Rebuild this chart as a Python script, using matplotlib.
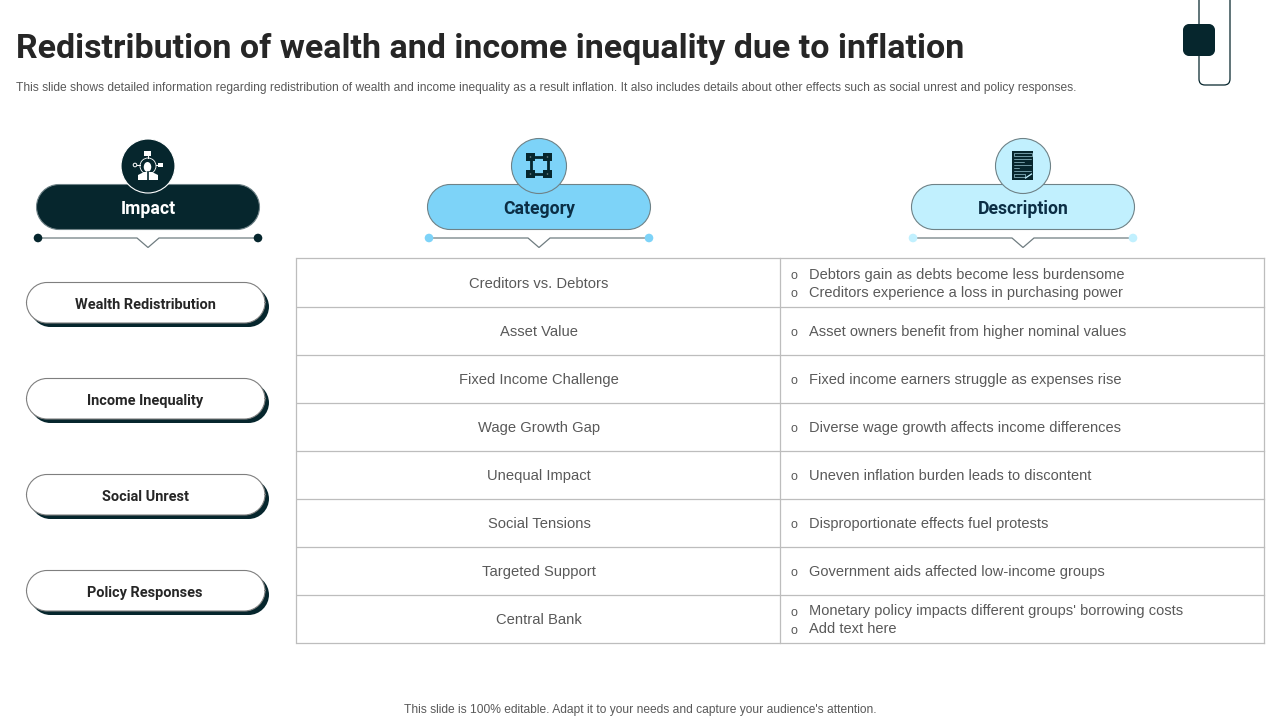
"""
    plot.py
        -- inflation slide: impact pills, category and description table
"""
import matplotlib

matplotlib.use("Agg")
import matplotlib.pyplot as plt
from matplotlib.patches import Circle, Ellipse, PathPatch, Polygon, Rectangle
from matplotlib.path import Path

TITLE = "Redistribution of wealth and income inequality due to inflation"
SUBTITLE = (
    "This slide shows detailed information regarding redistribution of wealth and income "
    "inequality as a result inflation. It also includes details about other effects such as "
    "social unrest and policy responses."
)
FOOTER = "This slide is 100% editable. Adapt it to your needs and capture your audience's attention."

headers = ["Impact", "Category", "Description"]
impacts = ["Wealth Redistribution", "Income Inequality", "Social Unrest", "Policy Responses"]
categories = [
    "Creditors vs. Debtors",
    "Asset Value",
    "Fixed Income Challenge",
    "Wage Growth Gap",
    "Unequal Impact",
    "Social Tensions",
    "Targeted Support",
    "Central Bank",
]
descriptions = [
    ["Debtors gain as debts become less burdensome", "Creditors experience a loss in purchasing power"],
    ["Asset owners benefit from higher nominal values"],
    ["Fixed income earners struggle as expenses rise"],
    ["Diverse wage growth affects income differences"],
    ["Uneven inflation burden leads to discontent"],
    ["Disproportionate effects fuel protests"],
    ["Government aids affected low-income groups"],
    ["Monetary policy impacts different groups' borrowing costs", "Add text here"],
]

DARK = "#06262d"
BLUE = "#7dd3f8"
PALE = "#c1f0fe"
EDGE = "#6f8287"
GRID = "#bdbdbd"
TEXT = "#595959"
HEAD_FONT = ["Roboto", "DejaVu Sans"]

plt.rcParams["font.family"] = ["Liberation Sans", "DejaVu Sans"]

fig = plt.figure(figsize=(12.8, 7.2), dpi=100)
ax = fig.add_axes([0, 0, 1, 1])
ax.set_xlim(0, 1280)
ax.set_ylim(720, 0)
ax.axis("off")


def px(size):
    return size * 0.72


def pill(x0, y0, x1, y1, r, **kwargs):
    # rounded box with true circular corners
    k = 0.5523 * r
    verts = [
        (x0 + r, y0), (x1 - r, y0),
        (x1 - r + k, y0), (x1, y0 + r - k), (x1, y0 + r),
        (x1, y1 - r),
        (x1, y1 - r + k), (x1 - r + k, y1), (x1 - r, y1),
        (x0 + r, y1),
        (x0 + r - k, y1), (x0, y1 - r + k), (x0, y1 - r),
        (x0, y0 + r),
        (x0, y0 + r - k), (x0 + r - k, y0), (x0 + r, y0),
    ]
    codes = [
        Path.MOVETO, Path.LINETO,
        Path.CURVE4, Path.CURVE4, Path.CURVE4,
        Path.LINETO,
        Path.CURVE4, Path.CURVE4, Path.CURVE4,
        Path.LINETO,
        Path.CURVE4, Path.CURVE4, Path.CURVE4,
        Path.LINETO,
        Path.CURVE4, Path.CURVE4, Path.CURVE4,
    ]
    ax.add_patch(PathPatch(Path(verts, codes), **kwargs))


def impact_icon(cx, cy):
    # small presenter with three branches
    ax.add_patch(Ellipse((cx - 0.5, cy + 1), 7.5, 10, fc="white", ec="none", zorder=6))
    ax.add_patch(Circle((cx, cy), 8, fc="none", ec="white", lw=0.6, zorder=5))
    ax.add_patch(Polygon(
        [(cx - 10, cy + 14), (cx - 10, cy + 9), (cx - 4, cy + 6), (cx + 4, cy + 6), (cx + 10, cy + 9), (cx + 10, cy + 14)],
        fc="white", ec="none", zorder=6,
    ))
    ax.plot([cx, cx], [cy + 6, cy + 14], color=DARK, lw=1.2, zorder=7)
    ax.add_patch(Rectangle((cx - 4, cy - 15), 7, 5, fc="white", ec="none", zorder=6))
    ax.plot([cx, cx], [cy - 10, cy - 8], color="white", lw=0.7, zorder=6)
    ax.add_patch(Circle((cx - 13, cy - 1), 1.8, fc=DARK, ec="white", lw=0.7, zorder=6))
    ax.plot([cx - 11, cx - 8], [cy - 1, cy - 1], color="white", lw=0.7, zorder=6)
    ax.add_patch(Rectangle((cx + 10, cy - 3), 4.5, 4, fc="white", ec="none", zorder=6))
    ax.plot([cx + 8, cx + 10], [cy - 1, cy - 1], color="white", lw=0.7, zorder=6)


def category_icon(cx, cy):
    cy = cy - 0.5
    ax.add_patch(Rectangle((cx - 8.5, cy - 8.5), 17, 17, fc="none", ec=DARK, lw=2.0, zorder=5))
    for dx in (-8.5, 8.5):
        for dy in (-8.5, 8.5):
            ax.add_patch(Rectangle((cx + dx - 4.3, cy + dy - 4.3), 8.6, 8.6, fc=DARK, ec="none", zorder=6))
            ax.add_patch(Circle((cx + dx, cy + dy), 0.8, fc=EDGE, ec="none", zorder=7))


def description_icon(cx, cy):
    cx = cx - 0.5
    ax.add_patch(Rectangle((cx - 10.5, cy - 15), 21, 29, fc=DARK, ec="none", zorder=5))
    ax.add_patch(Rectangle((cx - 9, cy - 13), 18, 3, fc="none", ec=PALE, lw=0.4, zorder=6))
    for dy, length in ((-7, 17), (-4, 10), (-1, 17), (2, 5), (5, 17)):
        ax.plot([cx - 9, cx - 9 + length], [cy + dy, cy + dy], color=PALE, lw=0.4, zorder=6)
    ax.add_patch(Rectangle((cx - 9, cy + 8), 11, 3, fc="none", ec=PALE, lw=0.4, zorder=6))
    ax.plot([cx + 3, cx + 9], [cy + 12, cy + 8], color=PALE, lw=0.9, zorder=6)


# top right ornament, the outline runs off the top of the slide
r = 6
outline = Path(
    [(1199, -2), (1199, 85 - r), (1199, 85), (1199 + r, 85), (1230 - r, 85), (1230, 85), (1230, 85 - r), (1230, -2)],
    [Path.MOVETO, Path.LINETO, Path.CURVE3, Path.CURVE3, Path.LINETO, Path.CURVE3, Path.CURVE3, Path.LINETO],
)
ax.add_patch(PathPatch(outline, fc="none", ec=DARK, lw=0.9))
pill(1183, 24, 1215, 56, 6, fc=DARK, ec="none", zorder=3)

ax.text(16, 58, TITLE, fontsize=px(34), fontweight="bold", family=HEAD_FONT, color="#262626", va="baseline", ha="left")
ax.text(16, 90.5, SUBTITLE, fontsize=px(12), color=TEXT, va="baseline", ha="left")

# column headers
header_x = [148, 539, 1023]
fills = [DARK, BLUE, PALE]
label_colors = ["white", "#0b2e45", "#0b2e45"]
icons = [impact_icon, category_icon, description_icon]
circle_r = [27, 27.5, 27.5]
for name, cx, fill, label_color, icon, cr in zip(headers, header_x, fills, label_colors, icons, circle_r):
    ring = "white" if fill == DARK else EDGE
    pill(cx - 111.5, 184.5, cx + 111.5, 229.5, 22.5, fc=fill, ec=EDGE, lw=0.8, zorder=2)
    ax.add_patch(Circle((cx, 166), cr, fc=fill, ec=ring, lw=0.8, zorder=3))
    icon(cx, 166)
    ax.text(cx, 214, name, fontsize=px(17.6), fontweight="bold", family=HEAD_FONT, color=label_color, ha="center", va="baseline", zorder=6)
    ax.plot(
        [cx - 110, cx - 11, cx, cx + 11, cx + 110],
        [238, 238, 247.5, 238, 238],
        color="#6f7c80", lw=0.9, zorder=2, solid_joinstyle="miter",
    )
    for dx in (-110, 110):
        ax.add_patch(Circle((cx + dx, 238), 4.3, fc=fill, ec="none", zorder=3))

# impact pills with their offset shadow
for i, label in enumerate(impacts):
    top = 282 + 96 * i
    pill(30, top + 4.5, 269, top + 45, 20.5, fc=DARK, ec="none", zorder=2)
    pill(26.5, top + 0.5, 265, top + 41, 20.5, fc="white", ec="#7f7f7f", lw=0.8, zorder=3)
    ax.text(145, top + 27, label, fontsize=px(14.5), fontweight="bold", family=HEAD_FONT, color="#262626", ha="center", va="baseline", zorder=4)

# table grid
row_lines = [258, 307, 355, 403, 451, 499, 547, 595, 643]
for y in row_lines:
    ax.plot([297, 1264], [y - 0.5, y - 0.5], color=GRID, lw=0.9, zorder=1)
for x in (296.5, 780.5, 1264):
    ax.plot([x - 0.5, x - 0.5], [257.5, 642.5], color=GRID, lw=0.9, zorder=1)

for i, (cat, lines) in enumerate(zip(categories, descriptions)):
    mid = (row_lines[i] + row_lines[i + 1]) / 2
    ax.text(539, mid + 5, cat, fontsize=px(14.7), color=TEXT, ha="center", va="baseline")
    offset = -9 * (len(lines) - 1)
    for j, line in enumerate(lines):
        y = mid + offset + 18 * j + 5
        ax.text(794, y + 0.5, "o", fontsize=px(12.5), color=TEXT, ha="center", va="baseline")
        ax.text(809, y, line, fontsize=px(14.6), color=TEXT, ha="left", va="baseline")

ax.text(640, 712.5, FOOTER, fontsize=px(12), color=TEXT, ha="center", va="baseline")

fig.savefig("out.png", dpi=100, facecolor="white")
plt.close("all")
